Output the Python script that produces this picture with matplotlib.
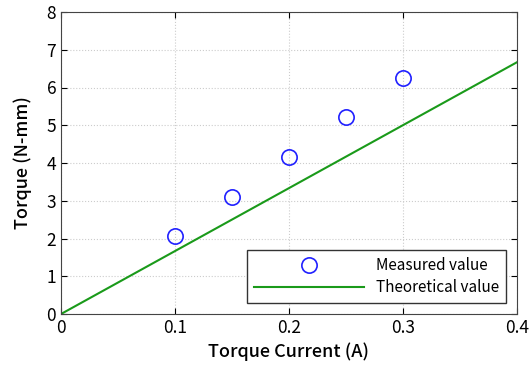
import matplotlib
matplotlib.use("Agg")
import matplotlib.pyplot as plt

plt.rcParams['font.family'] = ['Noto Sans CJK JP', 'DejaVu Sans']

# Data
current = [0.1, 0.15, 0.2, 0.25, 0.3]
measured = [2.07, 3.1, 4.15, 5.22, 6.25]
theory_x = [0.0, 0.4]
theory_y = [0.0, 6.67]

fig = plt.figure(figsize=(5.31, 3.83), dpi=100)
ax = fig.add_axes([61 / 531, 1 - 314 / 383, 456 / 531, 302 / 383])

ax.plot(current, measured, 'o', markerfacecolor='none', markeredgecolor='#2020ff',
        markersize=11, markeredgewidth=1.2, linestyle='none', label='Measured value')
ax.plot(theory_x, theory_y, color='#1a9a1a', linewidth=1.5, label='Theoretical value')

ax.set_xlim(0, 0.4)
ax.set_ylim(0, 8)
ax.set_xticks([0, 0.1, 0.2, 0.3, 0.4])
ax.set_xticklabels(['0', '0.1', '0.2', '0.3', '0.4'])
ax.set_yticks(range(0, 9))
ax.tick_params(direction='in', top=True, right=True, labelsize=12.5, length=4)
ax.grid(True, linestyle=':', color='#cccccc', linewidth=0.8)
for s in ax.spines.values():
    s.set_color('#444444')

ax.set_xlabel('Torque Current (A)', fontsize=13, fontweight='medium', labelpad=4)
ax.set_ylabel('Torque (N-mm)', fontsize=13, fontweight='medium', labelpad=10)

leg = ax.legend(loc='lower right', fontsize=11, fancybox=False, framealpha=1,
                edgecolor='#333333', borderaxespad=0.7, handlelength=7.2,
                borderpad=0.45, labelspacing=0.35, handletextpad=0.8)
leg.get_frame().set_linewidth(1.0)

fig.savefig('out.png', dpi=100)
